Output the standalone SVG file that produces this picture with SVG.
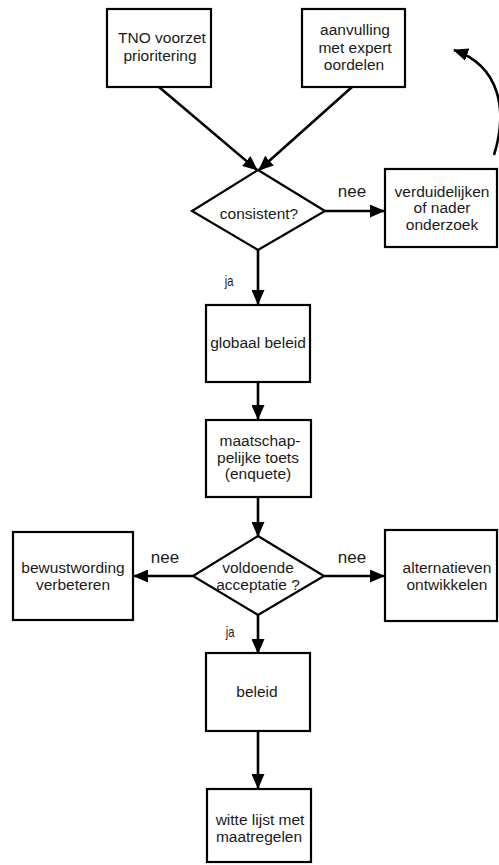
<svg xmlns="http://www.w3.org/2000/svg" width="499" height="865" viewBox="0 0 499 865">
<style>
.box{fill:#fff;stroke:#000;stroke-width:2.2}
.t{font-family:"Liberation Sans",Arial,sans-serif;font-size:15.5px;fill:#1a1a1a;text-anchor:middle}
.lbl{font-family:"Liberation Sans",Arial,sans-serif;font-size:17px;fill:#1a1a1a;text-anchor:middle}
.ja{font-family:"Liberation Sans Narrow","Liberation Sans",Arial,sans-serif;font-size:14px;fill:#1a1a1a;text-anchor:middle}
.c{fill:none;stroke:#000;stroke-width:2.6}
</style>
<defs>
<marker id="ah" markerUnits="userSpaceOnUse" markerWidth="15" markerHeight="13" refX="14" refY="6.5" orient="auto">
<path d="M0,0 L15,6.5 L0,13 z" fill="#000"/>
</marker>
</defs>
<rect width="499" height="865" fill="#fff"/>
<g id="connectors">
<line class="c" x1="159" y1="87" x2="257" y2="170" marker-end="url(#ah)"/>
<line class="c" x1="352" y1="87" x2="259" y2="170" marker-end="url(#ah)"/>
<line class="c" x1="325" y1="211" x2="384" y2="211" marker-end="url(#ah)"/>
<path class="c" d="M494,155 C508,110 500,66 454,50" marker-end="url(#ah)"/>
<line class="c" x1="258" y1="250" x2="258" y2="304" marker-end="url(#ah)"/>
<line class="c" x1="258" y1="382" x2="258" y2="419" marker-end="url(#ah)"/>
<line class="c" x1="258" y1="497" x2="258" y2="536" marker-end="url(#ah)"/>
<line class="c" x1="193" y1="576" x2="134" y2="576" marker-end="url(#ah)"/>
<line class="c" x1="324" y1="576" x2="384" y2="576" marker-end="url(#ah)"/>
<line class="c" x1="258" y1="615" x2="258" y2="653" marker-end="url(#ah)"/>
<line class="c" x1="258" y1="731" x2="258" y2="788" marker-end="url(#ah)"/>
<text class="lbl" x="352" y="197">nee</text>
<text class="ja" x="229" y="286" transform="translate(229 0) scale(0.8 1) translate(-229 0)">ja</text>
<text class="lbl" x="165" y="563">nee</text>
<text class="lbl" x="352" y="563">nee</text>
<text class="ja" x="230" y="637" transform="translate(230 0) scale(0.8 1) translate(-230 0)">ja</text>
</g>
<g id="tno">
<rect class="box" x="107" y="9" width="104" height="78"/>
<text class="t" x="162" y="43">TNO voorzet</text>
<text class="t" x="160" y="61">prioritering</text>
</g>
<g id="aanvulling">
<rect class="box" x="302" y="9" width="103" height="78"/>
<text class="t" x="355" y="35">aanvulling</text>
<text class="t" x="355" y="53">met expert</text>
<text class="t" x="354" y="70">oordelen</text>
</g>
<g id="consistent">
<polygon class="box" points="258,170 325,211 258,250 192,211"/>
<text class="t" x="259" y="219">consistent?</text>
</g>
<g id="verduidelijken">
<rect class="box" x="385" y="169" width="112" height="78"/>
<text class="t" x="442" y="197" font-size="14.5">verduidelijken</text>
<text class="t" x="442" y="213" font-size="14.5">of nader</text>
<text class="t" x="442" y="230" font-size="14.5">onderzoek</text>
</g>
<g id="globaal">
<rect class="box" x="206" y="305" width="104" height="77"/>
<text class="t" x="258" y="348">globaal beleid</text>
</g>
<g id="maatschappelijk">
<rect class="box" x="206" y="420" width="105" height="77"/>
<text class="t" x="260" y="446">maatschap-</text>
<text class="t" x="258" y="463">pelijke toets</text>
<text class="t" x="258" y="479">(enquete)</text>
</g>
<g id="acceptatie">
<polygon class="box" points="258,536 324,576 258,615 193,576"/>
<text class="t" x="258" y="573">voldoende</text>
<text class="t" x="258" y="590">acceptatie ?</text>
</g>
<g id="bewustwording">
<rect class="box" x="13" y="532" width="120" height="88"/>
<text class="t" x="73" y="573">bewustwording</text>
<text class="t" x="73" y="590">verbeteren</text>
</g>
<g id="alternatieven">
<rect class="box" x="385" y="530" width="112" height="91"/>
<text class="t" x="447" y="573">alternatieven</text>
<text class="t" x="447" y="590">ontwikkelen</text>
</g>
<g id="beleid">
<rect class="box" x="206" y="653" width="104" height="78"/>
<text class="t" x="257" y="697">beleid</text>
</g>
<g id="witte">
<rect class="box" x="207" y="789" width="104" height="73"/>
<text class="t" x="260" y="825">witte lijst met</text>
<text class="t" x="259" y="842">maatregelen</text>
</g>
</svg>
